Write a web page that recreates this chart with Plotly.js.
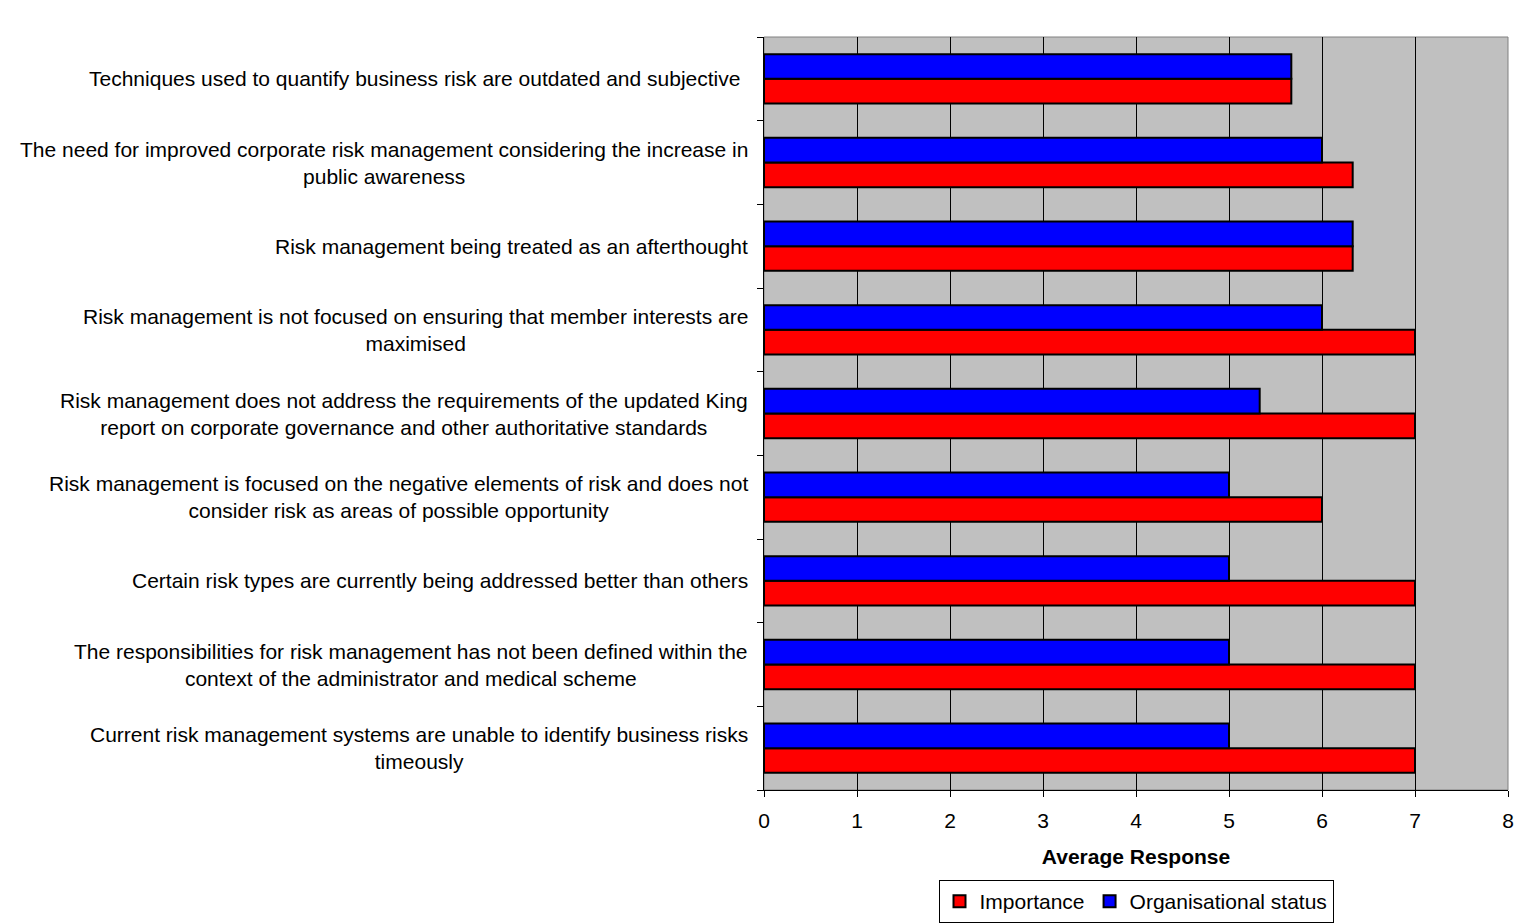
<!DOCTYPE html>
<html>
<head>
<meta charset="utf-8">
<script src="https://cdn.plot.ly/plotly-3.0.1.min.js"></script>
<style>html,body{margin:0;padding:0;background:#fff;}#chart{width:1518px;height:923px;}</style>
</head>
<body>
<div id="chart"></div>
<script>
// Categories listed bottom-to-top (as drawn on the y axis)
const categories = [
  "Current risk management systems are unable to identify business risks<br>timeously",
  "The responsibilities for risk management has not been defined within the<br>context of the administrator and medical scheme",
  "Certain risk types are currently being addressed better than others",
  "Risk management is focused on the negative elements of risk and does not<br>consider risk as areas of possible opportunity",
  "Risk management does not address the requirements of the updated King<br>report on corporate governance and other authoritative standards",
  "Risk management is not focused on ensuring that member interests are<br>maximised",
  "Risk management being treated as an afterthought",
  "The need for improved corporate risk management considering the increase in<br>public awareness",
  "Techniques used to quantify business risk are outdated and subjective"
];
const importance = [7, 7, 7, 6, 7, 7, 6.33, 6.33, 5.67];
const orgStatus  = [5, 5, 5, 5, 5.33, 6, 6.33, 6.0, 5.67];
const xTicks = [0, 1, 2, 3, 4, 5, 6, 7, 8];

const FONT = "Liberation Sans, Arial, sans-serif";

const traces = [
  {type: "bar", orientation: "h", name: "Importance", x: importance, y: categories,
   marker: {color: "#FF0000", line: {color: "#000000", width: 2}}},
  {type: "bar", orientation: "h", name: "Organisational status", x: orgStatus, y: categories,
   marker: {color: "#0000FF", line: {color: "#000000", width: 2}}}
];

const annotations = categories.map(c => ({
  xref: "paper", yref: "y", x: 0, y: c, xanchor: "right", yanchor: "middle",
  xshift: c.startsWith("Techniques") ? -22 : -14, text: c, showarrow: false, align: "center",
  font: {family: FONT, size: 21, color: "#000"}
}));

const layout = {
  width: 1518, height: 923,
  margin: {l: 764, r: 10, t: 37, b: 133},
  paper_bgcolor: "#FFFFFF",
  plot_bgcolor: "#C0C0C0",
  barmode: "group",
  bargap: 0.41,
  bargroupgap: 0,
  font: {family: FONT, size: 21, color: "#000"},
  showlegend: true,
  legend: {orientation: "h", x: 0.5, xanchor: "center", xref: "paper", y: 0.0, yanchor: "bottom", yref: "container",
           bordercolor: "#000", borderwidth: 1, font: {family: FONT, size: 21},
           traceorder: "normal", tracegroupgap: 0, bgcolor: "#fff", itemwidth: 30},
  xaxis: {range: [0, 8], tickvals: xTicks, ticktext: xTicks.map(String),
          showgrid: true, gridcolor: "#000", gridwidth: 1, zeroline: false,
          showline: true, linecolor: "#000", linewidth: 1,
          ticks: "outside", ticklen: 6, tickcolor: "#000", ticklabelstandoff: 6,
          tickfont: {family: FONT, size: 21},
          title: {text: "<b>Average Response</b>", font: {family: FONT, size: 21}, standoff: 18},
          fixedrange: true},
  yaxis: {type: "category", categoryorder: "array", categoryarray: categories,
          showticklabels: false, ticks: "outside", ticklen: 6, tickcolor: "#000",
          tickson: "boundaries", showgrid: false, zeroline: false,
          showline: true, linecolor: "#000", linewidth: 1, fixedrange: true},
  shapes: [{type: "rect", xref: "paper", yref: "paper", x0: 0, x1: 1, y0: 0, y1: 1,
            line: {color: "#808080", width: 1}, layer: "below"}],
  annotations: annotations
};

Plotly.newPlot("chart", traces, layout, {displayModeBar: false, staticPlot: true});
</script>
</body>
</html>
